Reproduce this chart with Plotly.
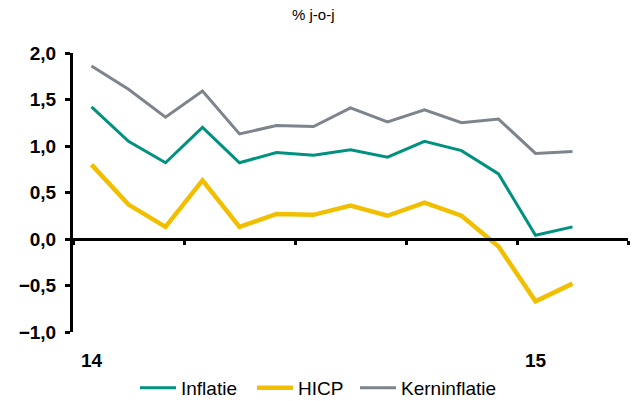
import plotly.graph_objects as go

months = list(range(14))  # Jan 2014 .. Feb 2015
inflatie = [1.42, 1.05, 0.82, 1.20, 0.82, 0.93, 0.90, 0.96, 0.88, 1.05, 0.95, 0.70, 0.04, 0.13]
hicp = [0.80, 0.37, 0.13, 0.63, 0.13, 0.27, 0.26, 0.36, 0.25, 0.39, 0.25, -0.08, -0.67, -0.48]
kern = [1.86, 1.61, 1.31, 1.59, 1.13, 1.22, 1.21, 1.41, 1.26, 1.39, 1.25, 1.29, 0.92, 0.94]
year_ticks = [0, 12]
year_labels = ["14", "15"]
quarter_bounds = [-0.5, 2.5, 5.5, 8.5, 11.5, 14.5]

TEAL = "#00917f"
YELLOW = "#f2bf00"
GREY = "#7d848c"
FONT = "Liberation Sans, Arial, sans-serif"

fig = go.Figure()
fig.add_trace(go.Scatter(x=months, y=inflatie, name="Inflatie", mode="lines",
                         line=dict(color=TEAL, width=3), legend="legend"))
fig.add_trace(go.Scatter(x=months, y=hicp, name="HICP", mode="lines",
                         line=dict(color=YELLOW, width=4.5), legend="legend2"))
fig.add_trace(go.Scatter(x=months, y=kern, name="Kerninflatie", mode="lines",
                         line=dict(color=GREY, width=3), legend="legend3"))

for xv, lab in zip(year_ticks, year_labels):
    fig.add_annotation(x=xv, xref="x", y=0, yref="paper", yanchor="top",
                       yshift=-16, showarrow=False, text=lab,
                       font=dict(size=19, color="black", family=FONT, weight="bold"))


def leg(xpix):
    return dict(orientation="h", x=xpix / 636, xref="container", xanchor="left",
                y=1 - 388 / 401, yref="container", yanchor="middle",
                font=dict(size=19, color="black"), itemwidth=36,
                bgcolor="rgba(0,0,0,0)")


fig.update_layout(
    width=636, height=401,
    margin=dict(l=73, r=8, t=53, b=69, autoexpand=False),
    paper_bgcolor="white", plot_bgcolor="white",
    separators=",.",
    font=dict(family=FONT, color="black"),
    title=dict(text="% j-o-j", x=292 / 636, xref="container", xanchor="left",
               y=1 - 15 / 401, yref="container", yanchor="middle",
               automargin=False,
               font=dict(size=15, color="black")),
    showlegend=True,
    legend=leg(135), legend2=leg(252), legend3=leg(355),
    xaxis=dict(range=[-0.5, 14.5], anchor="free", position=1 / 3,
               showline=True, linecolor="black", linewidth=3,
               tickvals=quarter_bounds, showticklabels=False, automargin=False,
               ticks="outside", ticklen=4, tickwidth=3, tickcolor="black",
               showgrid=False, zeroline=False),
    yaxis=dict(range=[-1, 2], dtick=0.5, tick0=0, tickformat=".1f",
               showline=True, linecolor="black", linewidth=3, automargin=False,
               ticks="outside", ticklen=5, tickwidth=3, tickcolor="black",
               showgrid=False, zeroline=False, ticklabelstandoff=5,
               tickfont=dict(size=19, color="black", family=FONT, weight="bold")),
)

fig.write_html("out.html", config={"displayModeBar": False},
               post_script="document.body.style.margin='0';")
